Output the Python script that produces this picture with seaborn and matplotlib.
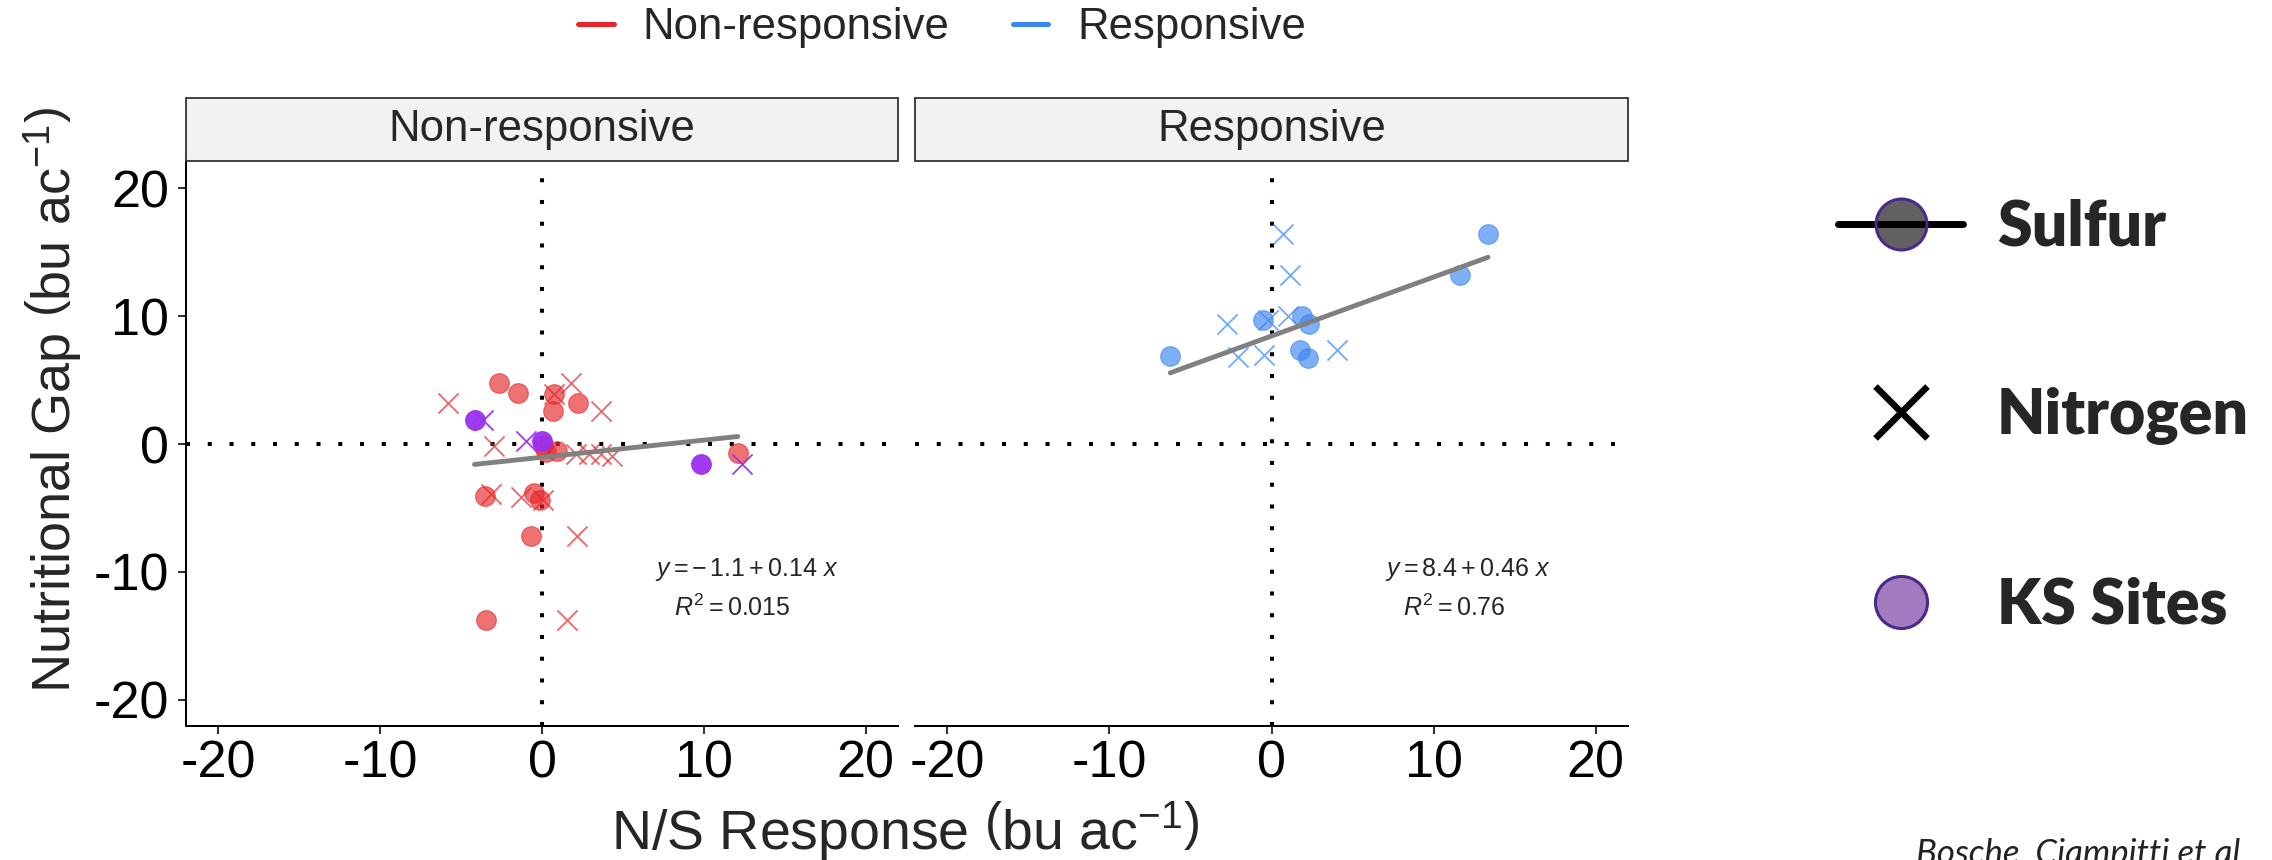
import matplotlib
matplotlib.use("Agg")
import matplotlib.pyplot as plt
import seaborn as sns
import pandas as pd
from matplotlib.lines import Line2D
from matplotlib.patches import Rectangle

# ---------------- data ----------------
panel_names = ["Non-responsive", "Responsive"]
x_ticks = [-20, -10, 0, 10, 20]
y_ticks = [-20, -10, 0, 10, 20]

# Non-responsive panel
nr_sulfur_x = [-2.63, -1.50, 0.72, 2.24, 0.66, 0.04, 0.25, 0.90, 12.10, -3.55, -0.51, -0.12, -0.68, -3.45]
nr_sulfur_y = [4.75, 3.98, 3.89, 3.20, 2.63, -0.04, -0.63, -0.56, -0.69, -4.05, -3.80, -4.37, -7.16, -13.77]
nr_ks_sulfur_x = [-4.17, 0.00, 9.84]
nr_ks_sulfur_y = [1.85, 0.27, -1.59]
nr_nitrogen_x = [-5.81, 1.79, 0.72, 3.63, -2.94, 2.09, 2.92, 3.63, 4.35, -3.14, -1.29, 0.04, 2.16, 1.52]
nr_nitrogen_y = [3.20, 4.75, 3.89, 2.60, -0.17, -0.74, -0.74, -0.74, -0.89, -3.92, -4.10, -4.37, -7.16, -13.77]
nr_ks_nitrogen_x = [-3.65, -0.99, 12.36]
nr_ks_nitrogen_y = [1.90, 0.22, -1.59]

# Responsive panel
r_sulfur_x = [-6.25, -0.50, 1.90, 2.33, 1.76, 2.27, 11.61, 13.36]
r_sulfur_y = [6.90, 9.68, 10.06, 9.42, 7.40, 6.75, 13.25, 16.41]
r_nitrogen_x = [0.73, 1.14, -2.76, -0.20, 1.04, -2.04, -0.46, 4.02]
r_nitrogen_y = [16.41, 13.22, 9.37, 9.68, 10.06, 6.83, 6.96, 7.34]

eq_labels = [r"$y = -\,1.1 + 0.14\ x$", r"$y = 8.4 + 0.46\ x$"]
r2_labels = [r"$R^2 = 0.015$", r"$R^2 = 0.76$"]
legend_labels = ["Sulfur", "Nitrogen", "KS Sites"]
citation = "Bosche, Ciampitti et al."

# ---------------- assemble table ----------------
rows = []
def add(panel, nutrient, ks, xs, ys):
    for a, b in zip(xs, ys):
        rows.append({"panel": panel, "nutrient": nutrient, "ks": ks, "x": a, "y": b})

add("Non-responsive", "Sulfur", False, nr_sulfur_x, nr_sulfur_y)
add("Non-responsive", "Sulfur", True, nr_ks_sulfur_x, nr_ks_sulfur_y)
add("Non-responsive", "Nitrogen", False, nr_nitrogen_x, nr_nitrogen_y)
add("Non-responsive", "Nitrogen", True, nr_ks_nitrogen_x, nr_ks_nitrogen_y)
add("Responsive", "Sulfur", False, r_sulfur_x, r_sulfur_y)
add("Responsive", "Nitrogen", False, r_nitrogen_x, r_nitrogen_y)
df = pd.DataFrame(rows)

# ---------------- style ----------------
sns.set_style("ticks")
plt.rcParams["font.family"] = ["Liberation Sans", "DejaVu Sans"]
plt.rcParams["axes.unicode_minus"] = False
plt.rcParams["mathtext.fontset"] = "custom"
plt.rcParams["mathtext.rm"] = "Liberation Sans"
plt.rcParams["mathtext.it"] = "Liberation Sans:italic"
plt.rcParams["mathtext.bf"] = "Liberation Sans:bold"

RED = "#E5262A"
BLUE = "#3A85F2"
PURPLE = "#9B30EE"
panel_colors = [RED, BLUE]

W, H = 2272, 860
fig = plt.figure(figsize=(W / 100, H / 100), dpi=100)
fig.patch.set_facecolor("white")

ax_top, ax_bot = 161, 726
strip_top = 98
panel_px = [(186, 898), (915, 1628)]
XLIM = (-22.0, 22.0)
YLIM = (-22.05, 22.15)

axes = []
for (l, r) in panel_px:
    ax = fig.add_axes([l / W, 1 - ax_bot / H, (r - l) / W, (ax_bot - ax_top) / H])
    axes.append(ax)

eq_pos = [((12.66, -9.82), (11.73, -12.8)), ((12.11, -9.82), (11.31, -12.8))]

for i, (ax, panel) in enumerate(zip(axes, panel_names)):
    sub = df[df["panel"] == panel]
    col = panel_colors[i]
    dot = dict(color="black", lw=2.9, linestyle=(0, (1, 4.4)), dash_capstyle="butt", zorder=1)
    ax.axhline(0, **dot)
    ax.axvline(0, **dot)

    s_main = sub[(sub["nutrient"] == "Sulfur") & (~sub["ks"])]
    n_main = sub[(sub["nutrient"] == "Nitrogen") & (~sub["ks"])]
    s_ks = sub[(sub["nutrient"] == "Sulfur") & (sub["ks"])]
    n_ks = sub[(sub["nutrient"] == "Nitrogen") & (sub["ks"])]

    sns.scatterplot(data=s_main, x="x", y="y", color=col, alpha=0.65, s=200,
                    marker="o", edgecolor=col, linewidth=0.8, ax=ax, zorder=3, legend=False)
    sns.scatterplot(data=n_main, x="x", y="y", color=col, alpha=0.7, s=210,
                    marker="x", linewidth=1.3, ax=ax, zorder=3, legend=False)
    if len(s_ks):
        sns.scatterplot(data=s_ks, x="x", y="y", color=PURPLE, alpha=0.95, s=200,
                        marker="o", edgecolor=PURPLE, linewidth=0.8, ax=ax, zorder=4, legend=False)
    if len(n_ks):
        sns.scatterplot(data=n_ks, x="x", y="y", color=PURPLE, alpha=0.95, s=210,
                        marker="x", linewidth=1.3, ax=ax, zorder=4, legend=False)

    sns.regplot(data=sub[sub["nutrient"] == "Sulfur"], x="x", y="y", scatter=False, ci=None,
                color="#808080", line_kws={"lw": 3.5, "zorder": 5}, ax=ax, truncate=True)

    ax.set_xlim(*XLIM)
    ax.set_ylim(*YLIM)
    ax.set_xlabel("")
    ax.set_ylabel("")
    ax.set_xticks(x_ticks)
    ax.set_xticklabels([str(v) for v in x_ticks])
    ax.set_yticks(y_ticks)
    ax.set_yticklabels([str(v) for v in y_ticks])
    ax.tick_params(axis="both", labelsize=37.5, length=5.8, width=1.45,
                   color="#333333", direction="out", labelcolor="black")
    ax.tick_params(axis="x", pad=3.6)
    ax.tick_params(axis="y", pad=6.5)
    for side in ["top", "right"]:
        ax.spines[side].set_visible(False)
    for side in ["left", "bottom"]:
        ax.spines[side].set_linewidth(1.45)
        ax.spines[side].set_color("black")
    if i == 1:
        ax.spines["left"].set_visible(False)
        ax.tick_params(axis="y", left=False, labelleft=False)

    # strip
    sh = (ax_top - strip_top) / (ax_bot - ax_top)
    ax.add_patch(Rectangle((0, 1), 1, sh, transform=ax.transAxes, facecolor="#F2F2F2",
                           edgecolor="#333333", lw=1.3, clip_on=False, zorder=10))
    ax.text(0.5, 1 + sh / 2, panel, transform=ax.transAxes, ha="center", va="center",
            fontsize=31.5, zorder=11)

    # equation labels
    (ex, ey), (rx, ry) = eq_pos[i]
    ax.text(ex, ey, eq_labels[i], ha="center", va="center", fontsize=18)
    ax.text(rx, ry, r2_labels[i], ha="center", va="center", fontsize=18)

# axis titles
fig.text(905 / W, 11 / H, r"N/S Response $\left(\mathrm{bu\ ac}^{-1}\right)$",
         ha="center", va="baseline", fontsize=40)
fig.text(71 / W, 1 - 400 / H, r"Nutritional Gap $\left(\mathrm{bu\ ac}^{-1}\right)$",
         ha="center", va="baseline", rotation=90, rotation_mode="anchor", fontsize=39)

# top colour legend
top_handles = [Line2D([], [], color=RED, lw=3.6), Line2D([], [], color=BLUE, lw=3.6)]
fig.legend(top_handles, panel_names, loc="center", bbox_to_anchor=(942 / W, 1 - 27.6 / H),
           ncol=2, frameon=False, fontsize=31.5, handlelength=0.82, handletextpad=0.66,
           columnspacing=1.44, borderpad=0, borderaxespad=0)

# right symbol legend
right_handles = [
    Line2D([], [], color="black", lw=5, marker="o", markersize=36.7,
           markerfacecolor=(0, 0, 0, 0.62), markeredgecolor="#4B2A8C", markeredgewidth=2.2),
    Line2D([], [], color="black", ls="none", marker="x", markersize=38, markeredgewidth=4.7),
    Line2D([], [], color="black", ls="none", marker="o", markersize=37.5,
           markerfacecolor="#A27BC0", markeredgecolor="#4B2A8C", markeredgewidth=2.2),
]
fig.legend(right_handles, legend_labels, loc="upper left", bbox_to_anchor=(1838 / W, 1 - 199 / H),
           frameon=False, prop={"family": "Lato", "weight": "heavy", "size": 45},
           handlelength=2.0, handletextpad=0.54, labelspacing=2.1, borderpad=0, borderaxespad=0)

# citation (cut at the bottom edge as in the source)
fig.text(1916 / W, -4 / H, citation, ha="left", va="baseline", fontsize=25,
         family="Lato", style="italic", color="#222222")

fig.savefig("out.png", dpi=100, facecolor="white")
